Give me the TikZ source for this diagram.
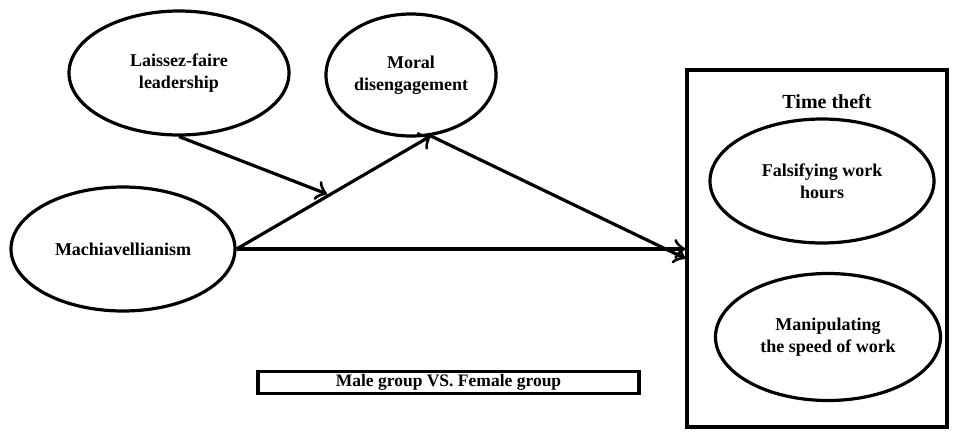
\documentclass[tikz,border=0pt]{standalone}
\usepackage{fontspec}
\setmainfont{Liberation Serif}
\usepackage{tikz}
\usetikzlibrary{arrows.meta}
\usetikzlibrary{shapes.geometric}
\tikzstyle{oval}=[ellipse, draw=black, line width=3.2pt, inner sep=0pt, align=center, font=\bfseries\fontsize{18}{22}\selectfont]
\tikzstyle{frame}=[rectangle, draw=black, line width=3.2pt, inner sep=0pt, font=\bfseries\fontsize{17.5}{22}\selectfont]
\tikzstyle{path}=[line width=3.2pt, -{Classical TikZ Rightarrow[length=11pt,width=20pt]}]

\begin{document}
\begin{tikzpicture}[x=1pt, y=-1pt]
    \useasboundingbox (0,0) rectangle (955,432);
    % constructs
    \node[oval, minimum width=220pt, minimum height=124pt] (lf) at (179,73) {Laissez-faire\\leadership};
    \node[oval, minimum width=170pt, minimum height=122pt] (md) at (411,75) {Moral\\disengagement};
    \node[oval, minimum width=224pt, minimum height=124pt] (mach) at (123,249) {Machiavellianism};
    % outcome
    \node[frame, minimum width=260pt, minimum height=357pt] (tt) at (817,248.5) {};
    \node[font=\bfseries\fontsize{20}{24}\selectfont] (ttl) at (827,102) {Time theft};
    \node[oval, minimum width=224pt, minimum height=124pt] (fw) at (822,181) {Falsifying work\\hours};
    \node[oval, minimum width=225pt, minimum height=127pt] (ms) at (828,337) {Manipulating\\the speed of work};
    % grouping
    \node[frame, minimum width=381pt, minimum height=22pt] (grp) at (448.5,382.5) {Male group VS. Female group};
    % paths
    \coordinate (mod) at (327,194);
    \draw[path] (lf.south) -- (mod);
    \draw[path] (mach.east) -- (md.-72);
    \draw[path] (md.-72) -- ([yshift=-10pt]tt.west);
    \draw[path] (mach.east) -- (mach.east -| tt.west);
  \end{tikzpicture}
\end{document}
